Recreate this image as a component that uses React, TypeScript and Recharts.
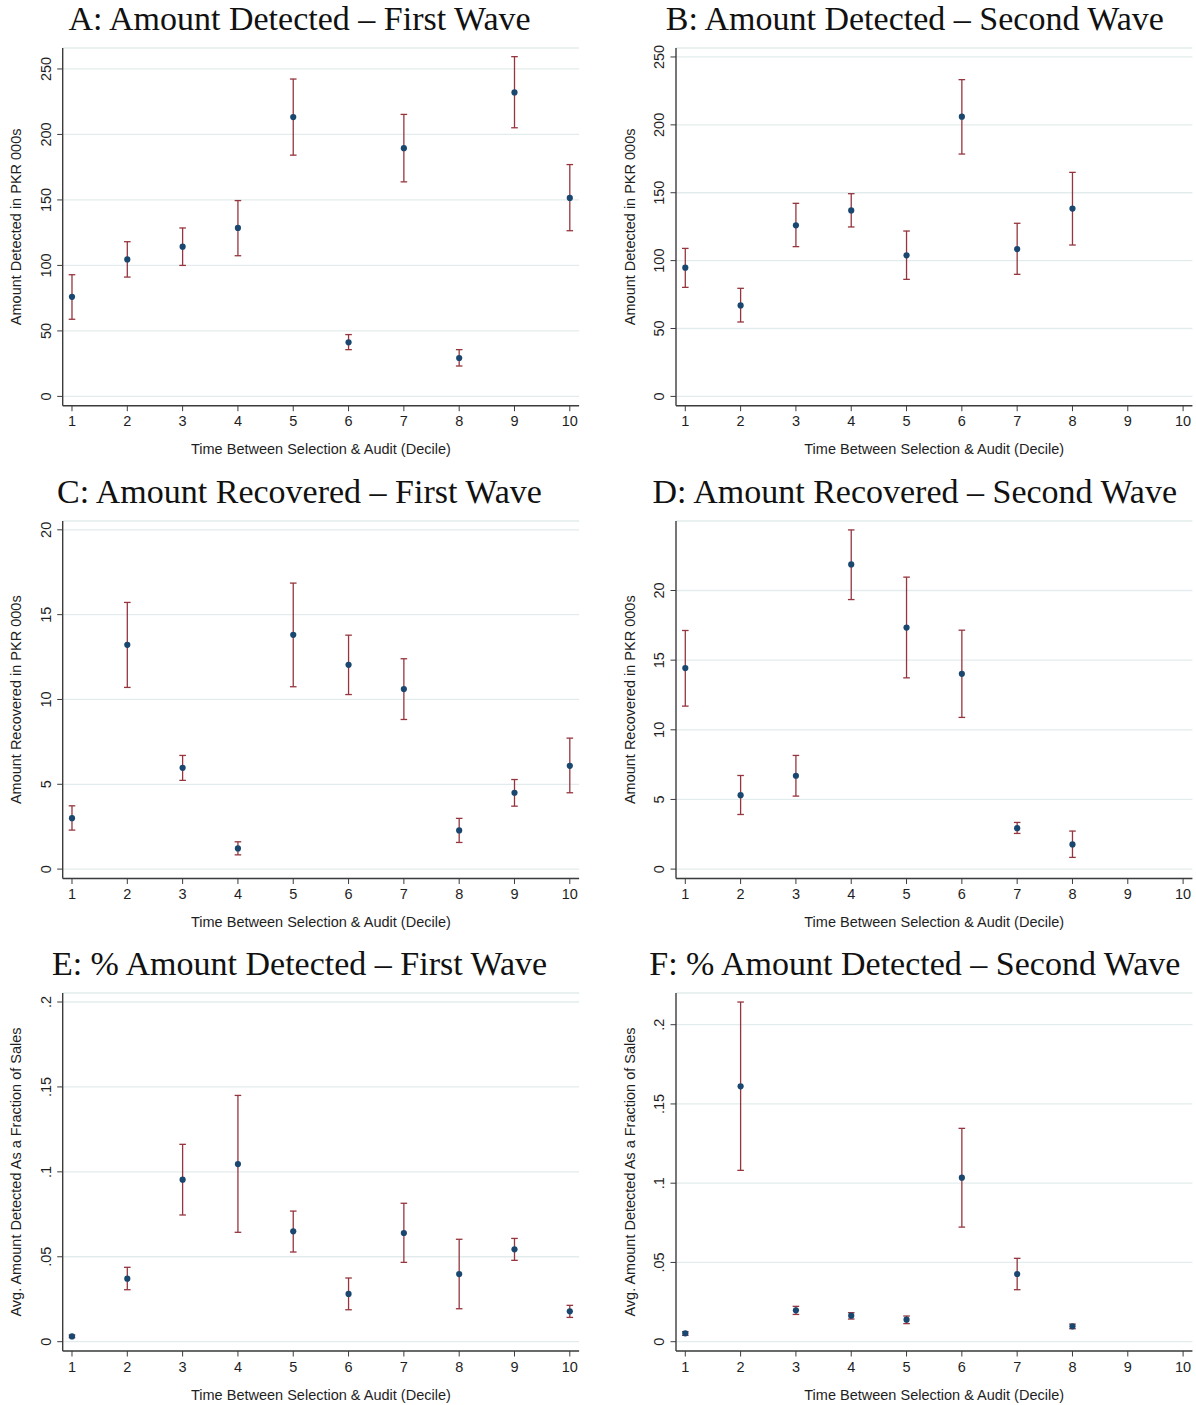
import React from 'react';
import { CartesianGrid, ErrorBar, Scatter, ScatterChart, XAxis, YAxis } from 'recharts';

// deciles of time between selection and audit
const deciles = [1, 2, 3, 4, 5, 6, 7, 8, 9, 10];

// A: amount detected, first wave (PKR 000s)
const detFirstMean = [76.0, 104.6, 114.3, 128.6, 213.3, 41.3, 189.5, 29.3, 232.1, 151.5];
const detFirstLo = [58.9, 91.1, 100.0, 107.4, 184.2, 35.7, 163.8, 23.2, 205.1, 126.5];
const detFirstHi = [92.9, 118.1, 128.6, 149.5, 242.3, 47.2, 215.3, 35.7, 259.4, 177.0];

// B: amount detected, second wave
const detSecondMean = [94.8, 67.0, 126.0, 137.0, 103.9, 206.0, 108.5, 138.3];
const detSecondLo = [80.3, 54.8, 110.3, 124.8, 86.2, 178.5, 89.9, 111.5];
const detSecondHi = [109.0, 79.6, 142.2, 149.3, 121.8, 233.3, 127.5, 165.0];

// C: amount recovered, first wave
const recFirstMean = [3.0, 13.22, 5.97, 1.22, 13.81, 12.04, 10.61, 2.28, 4.5, 6.09];
const recFirstLo = [2.3, 10.71, 5.23, 0.84, 10.75, 10.29, 8.82, 1.57, 3.71, 4.5];
const recFirstHi = [3.73, 15.72, 6.7, 1.61, 16.86, 13.79, 12.4, 2.99, 5.28, 7.72];

// D: amount recovered, second wave
const recSecondMean = [14.43, 5.31, 6.7, 21.87, 17.34, 14.02, 2.94, 1.77];
const recSecondLo = [11.7, 3.92, 5.24, 19.35, 13.73, 10.89, 2.56, 0.84];
const recSecondHi = [17.13, 6.72, 8.16, 24.35, 20.96, 17.15, 3.35, 2.73];

// E: share of sales detected, first wave
const pctFirstMean = [0.0031, 0.0371, 0.0954, 0.1046, 0.065, 0.0281, 0.064, 0.0398, 0.0544, 0.0179];
const pctFirstLo = [0.0024, 0.0306, 0.0746, 0.0644, 0.0528, 0.0188, 0.0467, 0.0194, 0.0479, 0.0143];
const pctFirstHi = [0.0039, 0.0438, 0.1162, 0.145, 0.0769, 0.0375, 0.0815, 0.0603, 0.0608, 0.0214];

// F: share of sales detected, second wave
const pctSecondMean = [0.0053, 0.1611, 0.0198, 0.0164, 0.0139, 0.1035, 0.0427, 0.0097];
const pctSecondLo = [0.004, 0.1081, 0.0172, 0.0143, 0.0114, 0.0723, 0.0328, 0.0082];
const pctSecondHi = [0.0063, 0.2143, 0.0223, 0.0183, 0.0162, 0.1346, 0.0526, 0.0111];

const amountTicks = [0, 50, 100, 150, 200, 250];
const amountTickLabels = ['0', '50', '100', '150', '200', '250'];
const recoveredTicks = [0, 5, 10, 15, 20];
const recoveredTickLabels = ['0', '5', '10', '15', '20'];
const shareTicks = [0, 0.05, 0.1, 0.15, 0.2];
const shareTickLabels = ['0', '.05', '.1', '.15', '.2'];

const xTitle = 'Time Between Selection & Audit (Decile)';

const SANS = '"Liberation Sans", Arial, Helvetica, sans-serif';
const SERIF = '"Liberation Serif", "Times New Roman", serif';
const TEXT = '#1e1e1e';
const AXIS = '#3c3c3c';
const BAR = '#96353e';
const DOT = '#1a476f';
const GRID = '#e3eced';

const PLOT_W = 516.4;
const AXIS_W = 40;

interface PanelProps {
  title: string;
  yLabel: string;
  mean: number[];
  lo: number[];
  hi: number[];
  yDomain: [number, number];
  yTicks: number[];
  yTickLabels: string[];
  col: 0 | 1;
  plotTop: number;
  plotHeight: number;
}

function Panel({ title, yLabel, mean, lo, hi, yDomain, yTicks, yTickLabels, col, plotTop, plotHeight }: PanelProps) {
  const data = mean.map((m, i) => ({ x: deciles[i], y: m, err: [m - lo[i], hi[i] - m] }));
  const left = col === 0 ? 0 : 598;
  const plotLeft = col === 0 ? 62.7 : 78;
  const titleCenter = col === 0 ? 299.5 : 316.8;
  const chartH = 480;
  const top = plotTop - 48;

  const yTick = (props: any) => {
    const { x, y, payload } = props;
    const idx = yTicks.indexOf(payload.value);
    return (
      <text x={x} y={y} transform={`rotate(-90 ${x} ${y})`} textAnchor="middle" fontSize={14.5} fontFamily={SANS} fill={TEXT}>
        {idx >= 0 ? yTickLabels[idx] : payload.value}
      </text>
    );
  };

  const xTick = (props: any) => {
    const { x, y, payload } = props;
    return (
      <text x={x} y={y + 15.2} textAnchor="middle" fontSize={14.5} fontFamily={SANS} fill={TEXT}>
        {payload.value}
      </text>
    );
  };

  const yTitle = (props: any) => {
    const vb = props.viewBox;
    const ax = vb ? vb.x + vb.width : plotLeft;
    const cy = vb ? vb.y + vb.height / 2 : 48 + plotHeight / 2;
    const x = ax - 41.3;
    return (
      <text x={x} y={cy} transform={`rotate(-90 ${x} ${cy})`} textAnchor="middle" fontSize={14.5} fontFamily={SANS} fill={TEXT}>
        {yLabel}
      </text>
    );
  };

  const xTitleLabel = (props: any) => {
    const vb = props.viewBox;
    const cx = vb ? vb.x + vb.width / 2 : plotLeft + PLOT_W / 2;
    const by = vb ? vb.y : 48 + plotHeight;
    return (
      <text x={cx} y={by + 48.5} textAnchor="middle" fontSize={14.5} fontFamily={SANS} fill={TEXT}>
        {xTitle}
      </text>
    );
  };

  return (
    <div style={{ position: 'absolute', left, top, width: 598, height: chartH }}>
      <div
        style={{
          position: 'absolute',
          left: titleCenter - 300,
          width: 600,
          top: 2.1,
          textAlign: 'center',
          fontFamily: SERIF,
          fontSize: 34,
          lineHeight: '34px',
          color: '#111',
          whiteSpace: 'nowrap',
        }}
      >
        {title}
      </div>
      <ScatterChart
        width={598}
        height={chartH}
        margin={{ top: 48, left: plotLeft - AXIS_W, right: 598 - plotLeft - PLOT_W, bottom: chartH - 48 - plotHeight - 30 }}
      >
        <CartesianGrid vertical={false} stroke={GRID} strokeWidth={1.3} />
        <XAxis
          dataKey="x"
          type="number"
          domain={[0.832, 10.168]}
          ticks={deciles}
          allowDataOverflow
          height={30}
          tickSize={5.5}
          tickMargin={0}
          tick={xTick}
          tickLine={{ stroke: AXIS }}
          axisLine={{ stroke: AXIS, strokeWidth: 1.4 }}
          interval={0}
          label={xTitleLabel}
        />
        <YAxis
          dataKey="y"
          type="number"
          domain={yDomain}
          ticks={yTicks}
          allowDataOverflow
          width={AXIS_W}
          tickSize={5.5}
          tickMargin={6.5}
          tick={yTick}
          tickLine={{ stroke: AXIS }}
          axisLine={{ stroke: AXIS, strokeWidth: 1.4 }}
          interval={0}
          label={yTitle}
        />
        <Scatter
          data={data}
          isAnimationActive={false}
          shape={(p: any) => <circle cx={p.cx} cy={p.cy} r={3.1} fill={DOT} />}
        >
          <ErrorBar dataKey="err" direction="y" width={3.3} stroke={BAR} strokeWidth={1.3} isAnimationActive={false} />
        </Scatter>
      </ScatterChart>
    </div>
  );
}

export default function App() {
  return (
    <div style={{ position: 'absolute', left: 0, top: 0, width: 1196, height: 1405, background: '#fff', overflow: 'hidden' }}>
      <Panel
        title="A: Amount Detected – First Wave"
        yLabel="Amount Detected in PKR 000s"
        mean={detFirstMean}
        lo={detFirstLo}
        hi={detFirstHi}
        yDomain={[-7.1, 266]}
        yTicks={amountTicks}
        yTickLabels={amountTickLabels}
        col={0}
        plotTop={48.3}
        plotHeight={357.7}
      />
      <Panel
        title="B: Amount Detected – Second Wave"
        yLabel="Amount Detected in PKR 000s"
        mean={detSecondMean}
        lo={detSecondLo}
        hi={detSecondHi}
        yDomain={[-6.85, 256.6]}
        yTicks={amountTicks}
        yTickLabels={amountTickLabels}
        col={1}
        plotTop={48.3}
        plotHeight={357.7}
      />
      <Panel
        title="C: Amount Recovered – First Wave"
        yLabel="Amount Recovered in PKR 000s"
        mean={recFirstMean}
        lo={recFirstLo}
        hi={recFirstHi}
        yDomain={[-0.554, 20.52]}
        yTicks={recoveredTicks}
        yTickLabels={recoveredTickLabels}
        col={0}
        plotTop={521.2}
        plotHeight={357.5}
      />
      <Panel
        title="D: Amount Recovered – Second Wave"
        yLabel="Amount Recovered in PKR 000s"
        mean={recSecondMean}
        lo={recSecondLo}
        hi={recSecondHi}
        yDomain={[-0.675, 24.99]}
        yTicks={recoveredTicks}
        yTickLabels={recoveredTickLabels}
        col={1}
        plotTop={521.2}
        plotHeight={357.5}
      />
      <Panel
        title="E: % Amount Detected – First Wave"
        yLabel="Avg. Amount Detected As a Fraction of Sales"
        mean={pctFirstMean}
        lo={pctFirstLo}
        hi={pctFirstHi}
        yDomain={[-0.00548, 0.2053]}
        yTicks={shareTicks}
        yTickLabels={shareTickLabels}
        col={0}
        plotTop={993.3}
        plotHeight={358}
      />
      <Panel
        title="F: % Amount Detected – Second Wave"
        yLabel="Avg. Amount Detected As a Fraction of Sales"
        mean={pctSecondMean}
        lo={pctSecondLo}
        hi={pctSecondHi}
        yDomain={[-0.00587, 0.22]}
        yTicks={shareTicks}
        yTickLabels={shareTickLabels}
        col={1}
        plotTop={993.3}
        plotHeight={358}
      />
    </div>
  );
}
